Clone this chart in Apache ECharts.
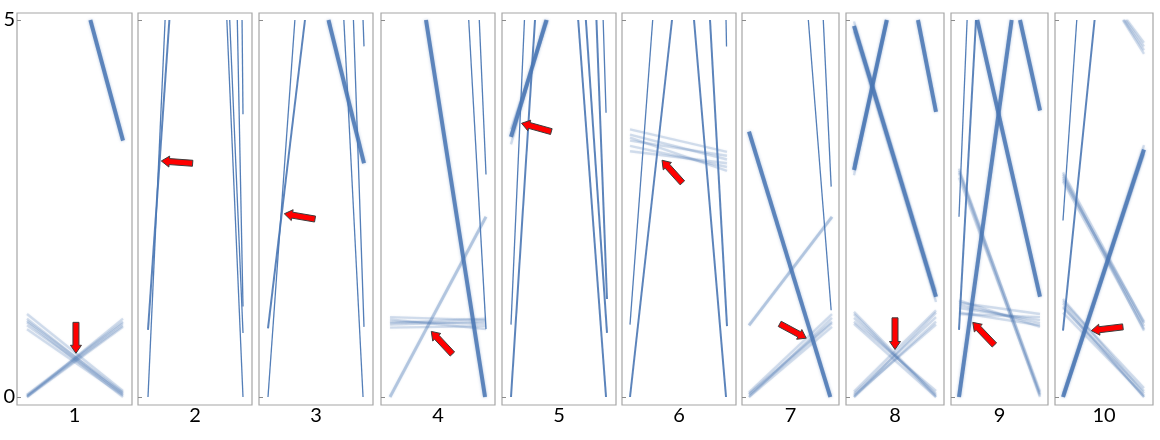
<!DOCTYPE html>
<html>
<head>
<meta charset="utf-8">
<title>Line bundles</title>
<script src="https://cdn.jsdelivr.net/npm/echarts@6.0.0/dist/echarts.min.js"></script>
<style>
  html, body { margin: 0; padding: 0; background: #fff; }
  #chart { width: 1160px; height: 440px; }
</style>
</head>
<body>
<div id="chart"></div>
<script>
  // names under the boxes and the y ticks
  const panelNames = ['1', '2', '3', '4', '5', '6', '7', '8', '9', '10'];
  const yTicks = [0, 5];

  // segments: [panel, x0, y0, x1, y1]  (x 0..1, y 0..5)
  const thinLines = [
    [2, 0, 0, 0.18, 5], [2, 0.83, 5, 1, 0], [2, 0.86, 5, 1, 0.85], [2, 0.94, 5, 1, 1.2], [2, 0.99, 5, 1, 3.75],
    [3, 0, 0, 0.28, 5], [3, 0.79, 5, 0.99, 0], [3, 0.89, 5, 1, 0.93], [3, 0.99, 5, 1, 4.65],
    [4, 0.82, 5, 1, 0.9], [4, 0.93, 5, 1, 2.95],
    [5, 0, 0.96, 0.14, 5], [5, 0.96, 5, 0.99, 3.77],
    [6, 0, 0.96, 0.234, 5], [6, 0.99, 5, 0.995, 4.65],
    [7, 0.715, 5, 0.99, 1.15], [7, 0.895, 5, 0.99, 2.79],
    [9, 0, 2.39, 0.10, 5],
    [10, 0, 2.34, 0.17, 5]
  ];
  const midLines = [
    [2, 0, 0.89, 0.225, 5],
    [3, 0, 0.91, 0.385, 5],
    [5, 0, 0, 0.25, 5], [5, 0.70, 5, 0.99, 0], [5, 0.78, 5, 1, 0.85], [5, 0.89, 5, 1, 1.3],
    [6, 0, 0, 0.433, 5], [6, 0.66, 5, 0.99, 0], [6, 0.825, 5, 1, 0.94],
    [9, 0, 0.89, 0.21, 5],
    [10, 0, 0.88, 0.39, 5]
  ];
  const boldLines = [
    [1, 0.66, 5, 1, 3.4],
    [3, 0.63, 5, 1, 3.1],
    [4, 0.375, 5, 0.99, 0],
    [5, 0, 3.45, 0.37, 5],
    [7, 0, 3.52, 0.98, 0],
    [8, 0, 4.92, 1, 1.33], [8, 0, 3.01, 0.40, 5], [8, 0.78, 5, 1, 3.78],
    [9, 0.226, 5, 1, 1.33], [9, 0, 0, 0.65, 5], [9, 0.753, 5, 1, 3.8],
    [10, 0, 0, 1, 3.28]
  ];
  const faintLines = [
    [4, 0, 0, 1, 2.39],
    [7, 0, 0.95, 1, 2.39]
  ];
  const bandLines = [
    [1, 0, 1.10, 1, 0.08], [1, 0, 1.04, 1, 0.03], [1, 0, 0.99, 1, 0], [1, 0, 0.95, 1, 0.05], [1, 0, 0.90, 1, 0.02], [1, 0, 1.01, 1, 0.06],
    [1, 0, 0, 1, 1.04], [1, 0, 0.02, 1, 0.98], [1, 0, 0, 1, 0.93], [1, 0, 0.03, 1, 1.0], [1, 0, 0.01, 1, 0.95],
    [4, 0, 1.06, 1, 1.02], [4, 0, 1.0, 1, 0.97], [4, 0, 0.96, 1, 1.0], [4, 0, 0.92, 1, 0.94], [4, 0, 1.03, 1, 0.9], [4, 0, 0.98, 1, 1.04],
    [5, 0, 3.55, 0.385, 5], [5, 0, 3.35, 0.355, 5],
    [6, 0, 3.55, 1, 3.25], [6, 0, 3.48, 1, 3.15], [6, 0, 3.40, 1, 3.20], [6, 0, 3.33, 1, 3.05], [6, 0, 3.26, 1, 3.10], [6, 0, 3.44, 1, 3.0],
    [7, 0, 0, 1, 1.05], [7, 0, 0.03, 1, 0.98], [7, 0, 0.06, 1, 1.1], [7, 0, 0, 1, 0.93], [7, 0, 0.04, 1, 1.0],
    [8, 0, 1.10, 1, 0], [8, 0, 1.05, 1, 0.04], [8, 0, 1.0, 1, 0.08], [8, 0, 1.13, 1, 0.02], [8, 0, 0.97, 1, 0],
    [8, 0, 0, 1, 1.12], [8, 0, 0.04, 1, 1.06], [8, 0, 0, 1, 1.0], [8, 0, 0.07, 1, 1.15], [8, 0, 0.02, 1, 0.96],
    [8, 0, 4.98, 1, 1.4], [8, 0, 4.85, 1, 1.26], [8, 0, 3.08, 0.41, 5], [8, 0, 2.94, 0.39, 5],
    [9, 0, 3.03, 1, 0.04], [9, 0, 2.97, 1, 0], [9, 0, 2.91, 1, 0.02], [9, 0, 3.0, 1, 0.07],
    [9, 0, 1.25, 1, 1.1], [9, 0, 1.18, 1, 1.02], [9, 0, 1.12, 1, 0.95], [9, 0, 1.22, 1, 0.98], [9, 0, 1.1, 1, 1.06], [9, 0, 1.28, 1, 0.93],
    [10, 0.75, 5, 1, 4.6], [10, 0.77, 5, 1, 4.65], [10, 0.79, 5, 1, 4.7], [10, 0.74, 5, 1, 4.55],
    [10, 0, 2.98, 1, 0.98], [10, 0, 2.92, 1, 0.94], [10, 0, 2.86, 1, 0.9], [10, 0, 2.95, 1, 0.88], [10, 0, 2.89, 1, 1.0],
    [10, 0, 0.04, 1, 3.34], [10, 0.01, 0, 1, 3.22],
    [10, 0, 1.30, 1, 0.05], [10, 0, 1.24, 1, 0], [10, 0, 1.18, 1, 0.08], [10, 0, 1.12, 1, 0.02], [10, 0, 1.27, 1, 0.12], [10, 0, 1.2, 1, 0]
  ];
  // arrows: [panel, xTail, yTail, xTip, yTip]
  const arrows = [
    [1, 0.51, 0.99, 0.51, 0.58],
    [2, 0.47, 3.10, 0.14, 3.13],
    [3, 0.49, 2.36, 0.17, 2.43],
    [4, 0.65, 0.57, 0.43, 0.87],
    [5, 0.42, 3.52, 0.11, 3.63],
    [6, 0.54, 2.84, 0.33, 3.14],
    [7, 0.37, 0.97, 0.69, 0.78],
    [8, 0.5, 1.05, 0.5, 0.63],
    [9, 0.437, 0.69, 0.17, 0.99],
    [10, 0.74, 0.93, 0.35, 0.88]
  ];

  // layout in pixels: box edges and plot (0..1) edges for each panel
  const boxX = [[17, 132], [138, 252], [259, 373], [381, 495], [502, 616], [622, 736], [742, 839], [846, 944], [951, 1048], [1055, 1153]];
  const plotX = [[27, 123], [148, 243], [268, 364], [390, 486], [511, 607], [630, 727], [749, 832], [854, 936], [959, 1040], [1063, 1144]];
  const boxTop = 13, boxBottom = 405, plotTop = 20, plotBottom = 397;

  const blue = '#4a77b4';
  const soft = 'rgba(74,119,180,0.5)';
  const lineKinds = [
    { segs: faintLines, style: { color: blue, width: 3, opacity: 0.33, shadowBlur: 2, shadowColor: soft }, z: 2 },
    { segs: bandLines, style: { color: blue, width: 2.4, opacity: 0.2, shadowBlur: 2, shadowColor: soft }, z: 3 },
    { segs: boldLines, style: { color: blue, width: 4, opacity: 0.85, shadowBlur: 3, shadowColor: soft }, z: 4 },
    { segs: midLines, style: { color: blue, width: 2, opacity: 0.9 }, z: 5 },
    { segs: thinLines, style: { color: blue, width: 1.3, opacity: 0.95 }, z: 5 }
  ];

  const grids = [], xAxes = [], yAxes = [], series = [];
  const ySpan = plotBottom - plotTop;

  panelNames.forEach((name, i) => {
    const panel = i + 1;
    const [bl, br] = boxX[i];
    const [pl, pr] = plotX[i];
    const w = pr - pl;
    grids.push({
      left: bl, top: boxTop, width: br - bl, height: boxBottom - boxTop,
      show: true, borderColor: '#a6a6a6', borderWidth: 1.2, backgroundColor: '#fff'
    });
    xAxes.push({
      gridIndex: i, type: 'value',
      min: -(pl - bl) / w, max: 1 + (br - pr) / w,
      name: name, nameLocation: 'middle', nameGap: 1,
      nameTextStyle: { fontFamily: 'Lato', fontSize: 20, color: '#000' },
      axisLine: { show: false, onZero: false }, axisTick: { show: false },
      axisLabel: { show: false }, splitLine: { show: false }
    });
    yAxes.push({
      gridIndex: i, type: 'value',
      min: -(boxBottom - plotBottom) / ySpan * 5, max: 5 + (plotTop - boxTop) / ySpan * 5,
      axisLine: { show: false, onZero: false }, splitLine: { show: false },
      axisTick: { show: true, inside: true, length: 4, customValues: yTicks, lineStyle: { color: '#8c8c8c' } },
      axisLabel: { show: i === 0, customValues: yTicks, margin: 2, fontFamily: 'Lato', fontSize: 20, color: '#000' }
    });

    lineKinds.forEach(kind => {
      const segs = kind.segs.filter(s => s[0] === panel);
      if (!segs.length) return;
      series.push({
        type: 'lines', coordinateSystem: 'cartesian2d',
        xAxisIndex: i, yAxisIndex: i, silent: true, z: kind.z,
        lineStyle: kind.style,
        data: segs.map(s => ({ coords: [[s[1], s[2]], [s[3], s[4]]] }))
      });
    });

    series.push({
      type: 'custom', coordinateSystem: 'cartesian2d',
      xAxisIndex: i, yAxisIndex: i, silent: true, z: 10,
      encode: { x: [0, 2], y: [1, 3] },
      data: arrows.filter(a => a[0] === panel).map(a => a.slice(1)),
      renderItem: (params, api) => {
        const t = api.coord([api.value(0), api.value(1)]);
        const h = api.coord([api.value(2), api.value(3)]);
        const dx = h[0] - t[0], dy = h[1] - t[1];
        const len = Math.sqrt(dx * dx + dy * dy);
        const ux = dx / len, uy = dy / len, nx = -uy, ny = ux;
        const headLen = 8, headHalf = 5.5, shaftHalf = 3;
        const kx = h[0] - ux * headLen, ky = h[1] - uy * headLen;
        const pts = [
          [t[0] + nx * shaftHalf, t[1] + ny * shaftHalf],
          [kx + nx * shaftHalf, ky + ny * shaftHalf],
          [kx + nx * headHalf, ky + ny * headHalf],
          [h[0], h[1]],
          [kx - nx * headHalf, ky - ny * headHalf],
          [kx - nx * shaftHalf, ky - ny * shaftHalf],
          [t[0] - nx * shaftHalf, t[1] - ny * shaftHalf]
        ];
        return {
          type: 'polygon', shape: { points: pts },
          style: { fill: '#ff0000', stroke: '#3d3d3d', lineWidth: 1 }
        };
      }
    });
  });

  const chart = echarts.init(document.getElementById('chart'));
  chart.setOption({
    animation: false,
    backgroundColor: '#fff',
    grid: grids,
    xAxis: xAxes,
    yAxis: yAxes,
    series: series
  });
</script>
</body>
</html>
